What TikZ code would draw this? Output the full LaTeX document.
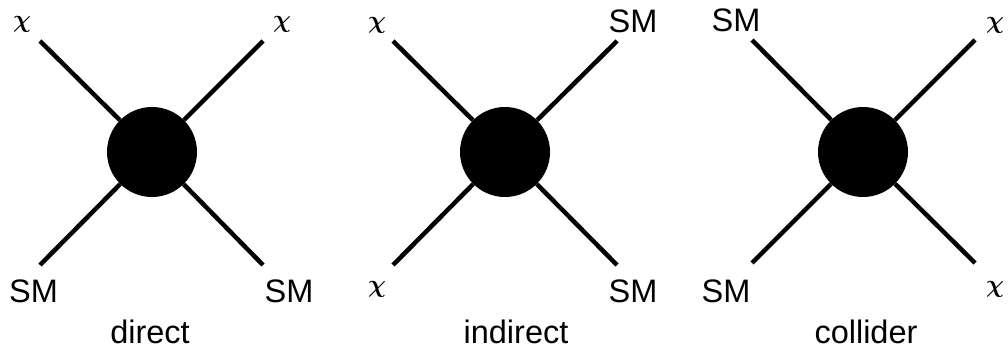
\documentclass[tikz,border=0pt]{standalone}
\usepackage{fontspec}
\setmainfont{Liberation Sans}
\newcommand{\chiglyph}{\ensuremath{\chi}}
\begin{document}
\begin{tikzpicture}[x=1pt,y=-1pt,
  blob/.style={circle,fill=black,minimum size=90pt,inner sep=0pt},
  leg/.style={line width=4.5pt},
  lbl/.style={font=\fontsize{32.5}{33}\selectfont,inner sep=0pt,anchor=base},
  title/.style={lbl,text depth=0pt},
  chi/.style={font=\fontsize{40}{40}\selectfont\mathversion{bold},inner sep=0pt}]
\useasboundingbox (0,0) rectangle (1008,347);
% panel 1
\node[blob] (c1) at (152,152) {};
\coordinate (a1) at (40,41);
\coordinate (b1) at (263,41);
\coordinate (d1) at (40,265);
\coordinate (e1) at (263,265);
\foreach \p in {a1,b1,d1,e1} \draw[leg] (c1) -- (\p);
\node[chi] (la1) at (22,24) {\chiglyph};
\node[chi] (lb1) at (282,24) {\chiglyph};
\node[lbl] (ld1) at (33.5,302) {SM};
\node[lbl] (le1) at (289,302) {SM};
\node[title] (t1) at (150,343) {direct};
% panel 2
\node[blob] (c2) at (505,152) {};
\coordinate (a2) at (393,41);
\coordinate (b2) at (617,41);
\coordinate (d2) at (393,265);
\coordinate (e2) at (617,265);
\foreach \p in {a2,b2,d2,e2} \draw[leg] (c2) -- (\p);
\node[chi] (la2) at (377,25) {\chiglyph};
\node[lbl] (lb2) at (633,33) {SM};
\node[chi] (ld2) at (377,289) {\chiglyph};
\node[lbl] (le2) at (633,302) {SM};
\node[title] (t2) at (516,343) {indirect};
% panel 3
\node[blob] (c3) at (863,152) {};
\coordinate (a3) at (752,40);
\coordinate (b3) at (975,40);
\coordinate (d3) at (752,263);
\coordinate (e3) at (975,263);
\foreach \p in {a3,b3,d3,e3} \draw[leg] (c3) -- (\p);
\node[lbl] (la3) at (736,32) {SM};
\node[chi] (lb3) at (995,25) {\chiglyph};
\node[lbl] (ld3) at (726,302) {SM};
\node[chi] (le3) at (995,289) {\chiglyph};
\node[title] (t3) at (866,343) {collider};
\end{tikzpicture}
\end{document}
